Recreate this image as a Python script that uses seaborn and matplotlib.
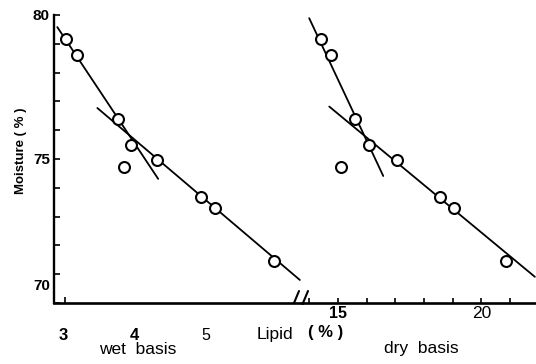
import matplotlib
matplotlib.use("Agg")
import matplotlib.pyplot as plt
import pandas as pd
import seaborn as sns
from matplotlib.ticker import FixedLocator
from matplotlib.transforms import ScaledTranslation

# Moisture content vs lipid content (same samples, wet and dry basis)
moisture = [79.15, 78.62, 76.40, 75.50, 74.72, 74.98, 73.67, 73.29, 71.45]
lipid_wet = [3.04, 3.20, 3.77, 3.95, 3.85, 4.31, 4.93, 5.13, 5.95]
lipid_dry = [14.40, 14.75, 15.60, 16.08, 15.10, 17.06, 18.55, 19.05, 20.84]

# Fitted straight lines (end points)
wet_steep_x, wet_steep_y = [2.92, 4.33], [79.58, 74.31]
wet_flat_x, wet_flat_y = [3.48, 6.31], [76.77, 70.80]
dry_steep_x, dry_steep_y = [14.00, 16.58], [79.89, 74.41]
dry_flat_x, dry_flat_y = [14.70, 21.86], [76.82, 70.91]

y_major = [70, 75, 80]
y_minor = list(range(70, 81))
wet_ticks, wet_labels = [3, 4, 5], ["3", "4", "5"]
dry_ticks, dry_labels = [15, 20], ["15", "20"]
dry_minor = list(range(14, 22))

sns.set_theme(style="white")
plt.rcParams["font.family"] = ["Liberation Sans", "DejaVu Sans"]

W, H = 536, 364
fig = plt.figure(figsize=(W / 100, H / 100), dpi=100)
fig.patch.set_facecolor("white")

x_axis, x_break, top_px, bot_px = 54, 302, 15, 303
ax_l = fig.add_axes([x_axis / W, (H - bot_px) / H, (x_break - x_axis) / W,
                     (bot_px - top_px) / H])
ax_r = fig.add_axes([x_break / W, (H - bot_px) / H, (W - x_break) / W,
                     (bot_px - top_px) / H], sharey=ax_l)

wet = pd.DataFrame({"lipid": lipid_wet, "moisture": moisture})
dry = pd.DataFrame({"lipid": lipid_dry, "moisture": moisture})

line_kw = dict(color="black", linewidth=1.3, estimator=None, sort=False,
               legend=False)
pt_kw = dict(s=62, facecolor="white", edgecolor="black", linewidth=1.5,
             zorder=5, legend=False)

for ax, df, lines in [
    (ax_l, wet, [(wet_steep_x, wet_steep_y), (wet_flat_x, wet_flat_y)]),
    (ax_r, dry, [(dry_steep_x, dry_steep_y), (dry_flat_x, dry_flat_y)]),
]:
    for lx, ly in lines:
        sns.lineplot(x=lx, y=ly, ax=ax, **line_kw)
    sns.scatterplot(data=df, x="lipid", y="moisture", ax=ax, **pt_kw)
    ax.set_facecolor("white")
    ax.set_xlabel("")
    ax.set_ylabel("")
    for s in ("top", "right"):
        ax.spines[s].set_visible(False)
    ax.spines["bottom"].set_linewidth(1.9)
    ax.spines["bottom"].set_color("black")

ax_l.set_xlim(2.874, 6.34)
ax_r.set_xlim(13.75, 21.9)
ax_l.set_ylim(70, 80)

# y axis
ax_l.spines["left"].set_linewidth(1.7)
ax_l.spines["left"].set_color("black")
ax_l.set_yticks(y_major)
ax_l.yaxis.set_minor_locator(FixedLocator(y_minor))
ax_l.tick_params(axis="y", which="both", direction="in", left=True,
                 length=4, width=1.2, color="black", pad=3)
for lab in ax_l.get_yticklabels():
    lab.set_fontweight("bold")
    lab.set_fontsize(11)
    lab.set_color("black")
    if lab.get_text() == "70":
        lab.set_transform(lab.get_transform() +
                          ScaledTranslation(0, 0.19, fig.dpi_scale_trans))
ax_l.set_ylabel("Moisture ( % )", fontsize=9.5, fontweight="bold",
                color="black")
ax_l.yaxis.set_label_coords(-0.11, 0.53)

# wet-basis x axis
ax_l.set_xticks(wet_ticks)
ax_l.set_xticklabels(wet_labels)
ax_l.xaxis.set_minor_locator(FixedLocator([3.03]))
ax_l.tick_params(axis="x", which="major", bottom=True, length=0, pad=18)
ax_l.tick_params(axis="x", which="minor", bottom=True, direction="in",
                 length=4, width=1.2, color="black")
for lab, w in zip(ax_l.get_xticklabels(), ["bold", "bold", "normal"]):
    lab.set_fontweight(w)
    lab.set_fontsize(12 if w == "bold" else 11.5)
    lab.set_color("black")

# dry-basis x axis
ax_r.spines["left"].set_visible(False)
ax_r.tick_params(axis="y", which="both", left=False, labelleft=False)
ax_r.set_xticks(dry_ticks)
ax_r.set_xticklabels(dry_labels)
ax_r.xaxis.set_minor_locator(FixedLocator(dry_minor))
ax_r.tick_params(axis="x", which="both", bottom=True, direction="in",
                 length=3.5, width=1.2, color="black", pad=2)
for lab, w in zip(ax_r.get_xticklabels(), ["bold", "normal"]):
    lab.set_fontweight(w)
    lab.set_fontsize(11.5 if w == "bold" else 12.5)
    lab.set_color("black")

# axis break marks
for dx in (-8, 1):
    xa = (x_break + dx) / W
    fig.add_artist(plt.Line2D([xa, xa + 5 / W],
                              [(H - bot_px) / H, (H - bot_px + 12) / H],
                              color="black", linewidth=1.5))

# axis titles
fig.text(257 / W, 1 - 335 / H, "Lipid", fontsize=12.5, va="center",
         ha="left", color="black")
fig.text(308 / W, 1 - 333 / H, "( % )", fontsize=12, fontweight="bold",
         va="center", ha="left", color="black")
fig.text(138 / W, 1 - 349 / H, "wet  basis", fontsize=12.5, ha="center",
         va="center", color="black")
fig.text(421 / W, 1 - 349 / H, "dry  basis", fontsize=12.5, ha="center",
         va="center", color="black")

fig.savefig("out.png", dpi=100, facecolor="white")
